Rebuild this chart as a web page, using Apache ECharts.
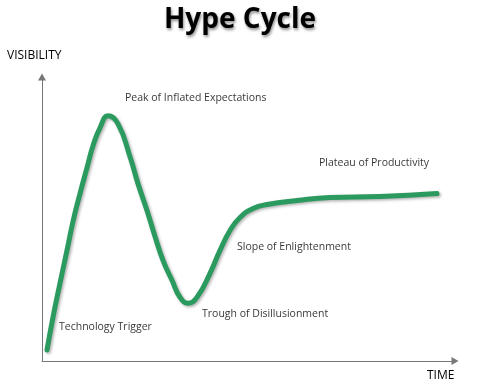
<!DOCTYPE html>
<html>
<head>
<meta charset="utf-8">
<script src="https://cdn.jsdelivr.net/npm/echarts@6/dist/echarts.min.js"></script>
<style>html,body{margin:0;padding:0;background:#fff}#c{width:480px;height:389px}</style>
</head>
<body>
<div id="c"></div>
<script>
// Curve: time (x) and visibility (y)
var curveTime = [5, 11, 18, 25, 31, 38, 45, 51, 58, 66, 76, 88, 96, 105, 113, 121, 130, 138, 146, 155, 168, 178, 188, 198, 211, 225, 255, 288, 338, 395];
var curveVisibility = [11, 44, 78, 111, 140, 168, 194, 216, 234, 246, 238, 205, 178, 151, 125, 101, 81, 64, 58, 64, 88, 111, 131, 144, 153, 157, 161, 164, 165, 168];

// Phase labels
var phaseNames = ['Technology Trigger', 'Peak of Inflated Expectations', 'Trough of Disillusionment', 'Slope of Enlightenment', 'Plateau of Productivity'];
var phaseTime = [17, 83, 160, 195, 277];
var phaseVisibility = [34, 264, 47, 114, 199];

var titleText = 'Hype Cycle';
var yName = 'VISIBILITY';
var xName = 'TIME';

var curve = curveTime.map(function (t, i) { return [t, curveVisibility[i]]; });
var phases = phaseNames.map(function (n, i) { return { name: n, value: [phaseTime[i], phaseVisibility[i]] }; });

var fontFam = '"Open Sans", sans-serif';
var chart = echarts.init(document.getElementById('c'));
chart.setOption({
  animation: false,
  backgroundColor: '#fff',
  title: {
    text: titleText, left: 'center', top: 1,
    textStyle: { fontFamily: fontFam, fontSize: 28, fontWeight: 'bold', color: '#000',
      textShadowColor: 'rgba(0,0,0,0.45)', textShadowBlur: 3, textShadowOffsetX: 1, textShadowOffsetY: 2 }
  },
  grid: { left: 42, right: 25, top: 77, bottom: 28 },
  xAxis: {
    type: 'value', min: 0, max: 413,
    axisLine: { show: true, symbol: ['none', 'triangle'], symbolSize: [8, 7], lineStyle: { color: '#777', width: 1 } },
    axisTick: { show: false }, axisLabel: { show: false }, splitLine: { show: false }
  },
  yAxis: {
    type: 'value', min: 0, max: 285,
    axisLine: { show: true, symbol: ['none', 'triangle'], symbolSize: [8, 7], lineStyle: { color: '#777', width: 1 } },
    axisTick: { show: false }, axisLabel: { show: false }, splitLine: { show: false }
  },
  graphic: [
    { type: 'text', left: 7, top: 50, style: { text: yName, font: '12px ' + fontFam, fill: '#000' } },
    { type: 'text', left: 427, top: 370, style: { text: xName, font: '12px ' + fontFam, fill: '#000' } }
  ],
  series: [
    {
      type: 'line', data: curve, smooth: 0.5, showSymbol: false, symbol: 'none',
      lineStyle: { color: '#2b9a5f', width: 5, cap: 'round', join: 'round',
        shadowColor: 'rgba(0,0,0,0.3)', shadowBlur: 3, shadowOffsetX: 1.5, shadowOffsetY: 1.5 }
    },
    {
      type: 'scatter', data: phases, symbolSize: 0, silent: true,
      label: { show: true, position: 'right', distance: 0, formatter: '{b}',
        fontFamily: fontFam, fontSize: 10.5, color: '#000' }
    }
  ]
});
</script>
</body>
</html>
